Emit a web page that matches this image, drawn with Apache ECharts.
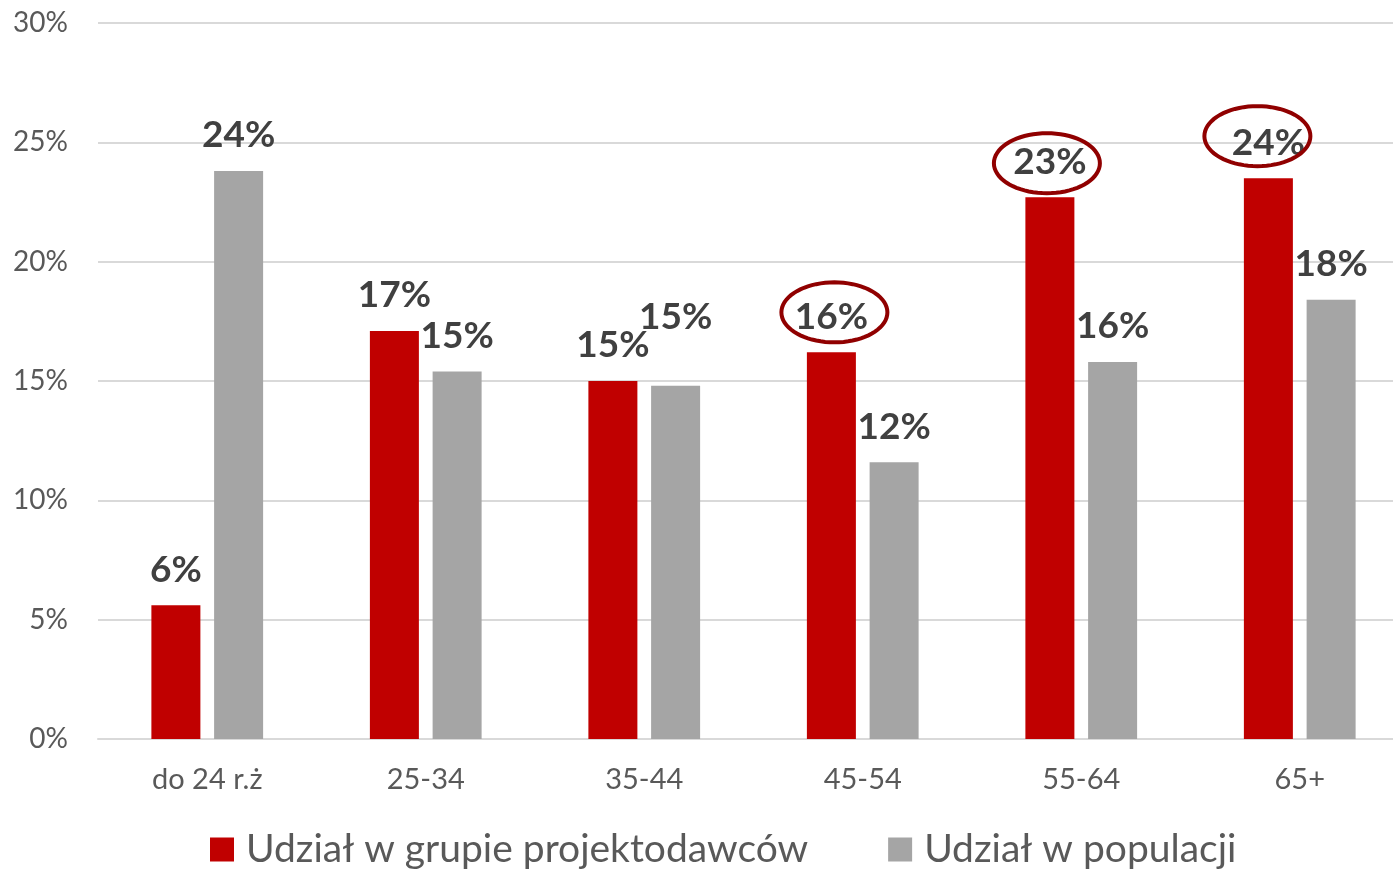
<!DOCTYPE html>
<html>
<head>
<meta charset="utf-8">
<script src="https://cdn.jsdelivr.net/npm/echarts@6/dist/echarts.min.js"></script>
<style>
  html, body { margin: 0; padding: 0; background: #fff; overflow: hidden; }
  #main { width: 1393px; height: 873px; }
</style>
</head>
<body>
<div id="main"></div>
<script>
// dane
var categories = ["do 24 r.ż", "25-34", "35-44", "45-54", "55-64", "65+"];
var projektodawcy = [5.6, 17.1, 15.0, 16.2, 22.7, 23.5];
var populacja = [23.8, 15.4, 14.8, 11.6, 15.8, 18.4];
var seriesNames = ["Udział w grupie projektodawców", "Udział w populacji"];
var yTicks = [0, 5, 10, 15, 20, 25, 30];
// wyróżnione (obwiedzione) etykiety: indeksy kategorii w serii projektodawców
var circled = [3, 4, 5];

var FONT = "Lato, 'Open Sans', sans-serif";

var myChart = echarts.init(document.getElementById("main"));

var labelStyle = {
  show: true,
  position: "top",
  distance: 17,
  fontFamily: FONT,
  fontWeight: "bold",
  fontSize: 37,
  color: "#404040",
  formatter: function (p) {
    return Math.round(p.value) + "%";
  }
};

// etykieta szarego słupka 35-44 jest podniesiona w oryginale
var popData = populacja.map(function (v, i) {
  if (i === 2) {
    return { value: v, label: { offset: [0, -33] } };
  }
  return v;
});

var option = {
  animation: false,
  // wykres w oryginale jest przycięty z prawej, siatka wychodzi poza kadr
  grid: { left: 98, right: -16, top: 23, bottom: 134, outerBoundsMode: "none", containLabel: false },
  legend: {
    left: 205,
    top: 825,
    itemWidth: 24,
    itemHeight: 24,
    itemGap: 80,
    icon: "rect",
    textStyle: {
      fontFamily: FONT,
      fontSize: 39,
      color: "#595959",
      padding: [0, 0, 0, 7]
    },
    data: seriesNames
  },
  xAxis: {
    type: "category",
    data: categories,
    axisLine: { lineStyle: { color: "#d9d9d9", width: 2 } },
    axisTick: { show: false },
    axisLabel: {
      margin: 26,
      fontFamily: FONT,
      fontSize: 29,
      color: "#595959"
    }
  },
  yAxis: {
    type: "value",
    min: yTicks[0],
    max: yTicks[yTicks.length - 1],
    interval: 5,
    axisLine: { show: false },
    axisTick: { show: false },
    splitLine: { lineStyle: { color: "#d9d9d9", width: 2 } },
    axisLabel: {
      margin: 30,
      fontFamily: FONT,
      fontSize: 28,
      color: "#595959",
      formatter: "{value}%"
    }
  },
  series: [
    {
      name: seriesNames[0],
      type: "bar",
      barWidth: 49,
      barGap: "28%",
      itemStyle: { color: "#c00000" },
      label: labelStyle,
      data: projektodawcy
    },
    {
      name: seriesNames[1],
      type: "bar",
      barWidth: 49,
      barGap: "28%",
      itemStyle: { color: "#a5a5a5" },
      label: labelStyle,
      data: popData
    }
  ]
};
myChart.setOption(option);

// obwódki (elipsy) wokół wybranych etykiet
var ellipseShift = { 3: [3, -3], 4: [-3, 3], 5: [-11, -5] };
function ellipsePoints(cx, cy, rx, ry) {
  var pts = [];
  for (var k = 0; k < 72; k++) {
    var a = (k / 72) * Math.PI * 2;
    pts.push([cx + rx * Math.cos(a), cy + ry * Math.sin(a)]);
  }
  return pts;
}
var graphics = circled.map(function (idx) {
  var pt = myChart.convertToPixel({ seriesIndex: 0 }, [idx, projektodawcy[idx]]);
  var bars = myChart.getModel().getSeriesByIndex(0).getData().getItemLayout(idx);
  var cx = bars.x + bars.width / 2 + ellipseShift[idx][0];
  var cy = pt[1] - 37 + ellipseShift[idx][1];
  return {
    type: "polygon",
    z: 100,
    shape: { points: ellipsePoints(cx, cy, 53, 30) },
    style: { fill: null, stroke: "#900000", lineWidth: 4 }
  };
});
myChart.setOption({ graphic: graphics });
</script>
</body>
</html>
